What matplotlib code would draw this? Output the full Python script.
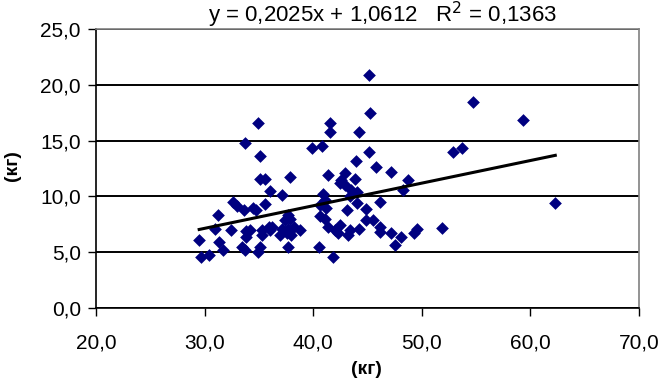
import numpy as np
import matplotlib
matplotlib.use("Agg")
import matplotlib.pyplot as plt
from matplotlib.ticker import FuncFormatter, MultipleLocator

# --- data ---
x_vals = [
    34.95, 33.75, 35.1, 35.1, 35.6, 36.0, 32.6, 32.95, 33.6, 34.5,
    34.7, 35.6, 31.2, 31.0, 32.4, 33.8, 34.2, 35.3, 35.9, 33.8,
    35.3, 29.5, 31.35, 31.7, 33.4, 33.7, 35.1, 34.95, 29.7, 30.4,
    41.55, 41.55, 44.2, 39.85, 40.8, 43.9, 37.9, 41.4, 42.9, 42.6,
    42.5, 42.9, 43.5, 43.85, 37.1, 40.9, 41.1, 43.4, 40.6, 41.2,
    43.1, 37.7, 37.9, 37.4, 40.6, 41.1, 36.2, 37.1, 37.7, 38.2,
    38.8, 37.6, 38.0, 36.9, 41.4, 42.0, 42.5, 42.3, 43.2, 43.4,
    37.7, 40.5, 41.85, 44.25, 45.1, 45.75, 47.2, 48.75, 48.3, 44.0,
    44.0, 44.9, 46.15, 44.9, 45.5, 46.15, 46.15, 47.2, 48.1, 47.5,
    49.3, 49.6, 51.9, 36.0, 45.1, 54.7, 59.35, 45.2, 52.9, 53.75,
    62.3,
]
y_vals = [
    16.6, 14.8, 13.6, 11.6, 11.6, 10.5, 9.5, 9.1, 8.8, 9.0,
    8.8, 9.3, 8.3, 7.1, 7.0, 6.9, 7.0, 7.0, 7.3, 6.4,
    6.5, 6.1, 5.9, 5.2, 5.5, 5.2, 5.5, 5.0, 4.6, 4.75,
    16.6, 15.8, 15.8, 14.3, 14.5, 13.2, 11.7, 11.9, 12.1, 11.5,
    11.2, 11.0, 10.6, 11.6, 10.1, 10.2, 9.7, 10.0, 9.2, 9.0,
    8.8, 8.3, 8.0, 7.9, 8.2, 8.0, 7.3, 7.1, 7.1, 7.3,
    7.0, 6.7, 6.5, 6.5, 7.3, 7.0, 7.4, 6.7, 6.5, 7.0,
    5.5, 5.5, 4.6, 7.1, 14.0, 12.6, 12.2, 11.5, 10.6, 10.4,
    9.4, 8.9, 9.5, 7.9, 7.9, 7.3, 6.8, 6.75, 6.4, 5.6,
    6.75, 7.1, 7.2, 7.0, 20.9, 18.5, 16.8, 17.5, 14.0, 14.3,
    9.4,
]

# trendline from the label in the picture
slope = 0.2025
intercept = 1.0612
r2 = 0.1363

x_label = "(кг)"
y_label = "(кг)"


def comma_fmt(v, pos):
    return f"{v:.1f}".replace(".", ",")


def main():
    plt.rcParams["font.family"] = ["Liberation Sans", "DejaVu Sans"]

    fig = plt.figure(figsize=(6.6, 3.81), dpi=100)
    ax = fig.add_axes([0.1455, 0.1916, 0.8225, 0.7324])

    ax.scatter(x_vals, y_vals, marker="D", s=42, color="#000080",
               linewidths=0, zorder=3)

    # --- trendline ---
    xs = np.array([min(x_vals), max(x_vals)])
    ax.plot(xs, slope * xs + intercept, color="black", lw=2.2, zorder=4)

    ax.set_xlim(20, 70)
    ax.set_ylim(0, 25)
    ax.xaxis.set_major_locator(MultipleLocator(10))
    ax.yaxis.set_major_locator(MultipleLocator(5))
    ax.xaxis.set_major_formatter(FuncFormatter(comma_fmt))
    ax.yaxis.set_major_formatter(FuncFormatter(comma_fmt))

    ax.grid(True, axis="y", color="black", lw=1.4, zorder=1)
    ax.set_axisbelow(True)

    for side in ("top", "right"):
        ax.spines[side].set_color("#808080")
        ax.spines[side].set_linewidth(1.2)
    for side in ("left", "bottom"):
        ax.spines[side].set_color("black")
        ax.spines[side].set_linewidth(1.2)

    ax.tick_params(direction="out", length=6, width=1, labelsize=15)
    ax.tick_params(axis="y", pad=5)
    ax.tick_params(axis="x", pad=12)

    # --- labels ---
    fig.text(366 / 660, 1 - 370 / 381, x_label, fontsize=14,
             fontweight="bold", ha="center", va="center")
    fig.text(13 / 660, 1 - 166 / 381, y_label, fontsize=14,
             fontweight="bold", ha="center", va="center", rotation=90)

    fig.text(382 / 660, 1 - 15 / 381,
             f"y = {slope:.4f}x + {intercept:.4f}   R$^2$ = {r2:.4f}".replace(".", ","),
             ha="center", va="center", fontsize=16)

    fig.savefig("out.png", dpi=100)


if __name__ == "__main__":
    main()
